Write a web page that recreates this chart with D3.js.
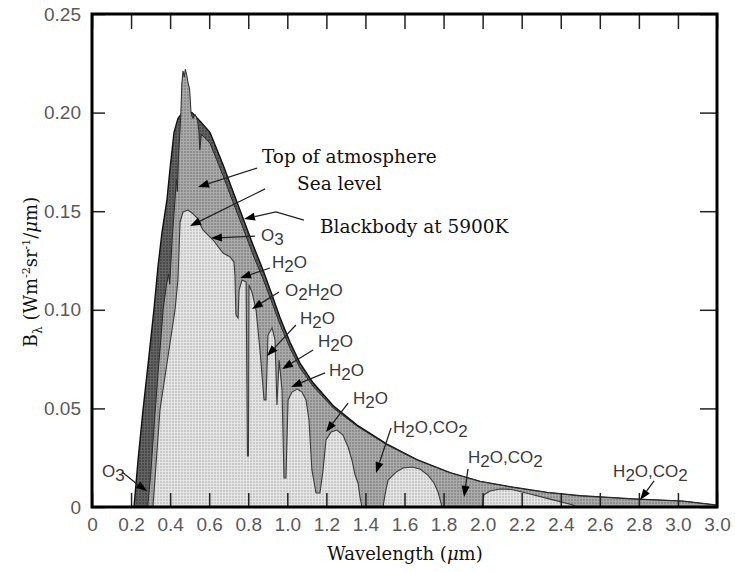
<!DOCTYPE html>
<html><head><meta charset="utf-8">
<script src="https://cdn.jsdelivr.net/npm/d3@7"></script>
<style>html,body{margin:0;padding:0;background:#fff}svg{display:block}</style>
</head><body>
<svg id="chart" width="735" height="572"></svg>
<script>
// ---- data ----
const xTickValues = [0,0.2,0.4,0.6,0.8,1.0,1.2,1.4,1.6,1.8,2.0,2.2,2.4,2.6,2.8,3.0,3.2];
const xTickLabels = ["0","0.2","0.4","0.6","0.8","1.0","1.2","1.4","1.6","1.8","2.0","2.2","2.4","2.6","2.8","3.0","3.0"];
const yTickValues = [0,0.05,0.10,0.15,0.20,0.25];
const yTickLabels = ["0","0.05","0.10","0.15","0.20","0.25"];

// Blackbody at 5900K (wavelength µm, radiance)
const bbWavelength = [0.215,0.236,0.261,0.290,0.317,0.338,0.358,0.384,0.400,0.420,0.440,0.470,0.512,0.550,0.604,0.671,0.722,0.773,0.824,0.876,0.922,0.963,1.014,1.065,1.132,1.234,1.357,1.510,1.664,1.833,1.987,2.156,2.330,2.499,2.770,3.026,3.180,3.200];
const bbRadiance   = [0,0.024,0.049,0.075,0.100,0.122,0.139,0.156,0.172,0.190,0.197,0.201,0.200,0.196,0.190,0.1735,0.160,0.1465,0.133,0.120,0.1075,0.0960,0.0835,0.0730,0.0630,0.0515,0.0415,0.0319,0.0240,0.0174,0.0130,0.0100,0.0074,0.0057,0.0041,0.0030,0.0012,0.0008];

// Top of atmosphere
const toaWavelength = [0.285,0.300,0.323,0.340,0.355,0.364,0.380,0.392,0.398,0.410,0.425,0.432,0.437,0.443,0.450,0.455,0.460,0.466,0.472,0.478,0.485,0.492,0.500,0.507,0.516,0.528,0.540,0.547,0.552,0.560,0.604,0.671,0.722,0.773,0.824,0.876,0.922,0.963,1.014,1.065,1.132,1.234,1.357,1.510,1.664,1.833,1.987,2.156,2.330,2.499,2.770,3.026,3.180,3.200];
const toaRadiance   = [0,0.016,0.048,0.070,0.088,0.100,0.112,0.118,0.113,0.135,0.156,0.166,0.160,0.178,0.190,0.200,0.215,0.221,0.218,0.222,0.219,0.215,0.212,0.200,0.197,0.199,0.196,0.191,0.181,0.189,0.1845,0.168,0.1545,0.1415,0.1280,0.1155,0.1035,0.0925,0.0805,0.0705,0.0612,0.0503,0.0410,0.0315,0.0238,0.0173,0.0129,0.0099,0.0073,0.0056,0.0040,0.0029,0.0011,0.0007];

// Sea level
const seaWavelength = [0.312,0.348,0.425,0.440,0.451,0.466,0.492,0.512,0.538,0.568,0.620,0.671,0.707,0.727,0.732,0.737,0.748,0.753,0.768,0.789,0.796,0.801,0.804,0.819,0.840,0.860,0.881,0.891,0.901,0.922,0.937,0.947,0.958,0.973,0.983,0.993,1.004,1.024,1.050,1.075,1.096,1.111,1.126,1.147,1.167,1.183,1.198,1.224,1.254,1.285,1.311,1.331,1.347,1.362,1.372,1.382,1.490,1.500,1.516,1.557,1.592,1.638,1.679,1.720,1.751,1.772,1.792,1.997,2.007,2.038,2.089,2.150,2.243,2.345,2.463,2.478];
const seaRadiance   = [0,0.0492,0.0999,0.1151,0.1445,0.1496,0.1506,0.1491,0.1466,0.1405,0.1354,0.1288,0.1268,0.1242,0.1176,0.0974,0.0958,0.1100,0.1151,0.1141,0.0259,0.0259,0.1126,0.1090,0.0999,0.0796,0.0543,0.0543,0.0872,0.0908,0.0847,0.0517,0.0745,0.0593,0.0147,0.0147,0.0543,0.0583,0.0598,0.0583,0.0543,0.0441,0.0188,0.0071,0.0071,0.0188,0.0340,0.0380,0.0390,0.0365,0.0304,0.0238,0.0162,0.0122,0.0051,0,0,0.0061,0.0137,0.0177,0.0198,0.0203,0.0193,0.0162,0.0122,0.0076,0,0,0.0062,0.0081,0.0091,0.0089,0.0066,0.0040,0.0010,0];

// Annotations: label text, label anchor (µm, radiance), leader points ending at arrow tip
const annoText  = ["Top of atmosphere","Sea level","Blackbody at 5900K","O3","H2O","O2H2O","H2O","H2O","H2O","H2O","H2O,CO2","H2O,CO2","H2O,CO2","O3"];
const annoSerif = [true,true,true,false,false,false,false,false,false,false,false,false,false,false];
const annoLabelAt = [[0.870,0.1744],[1.050,0.1608],[1.167,0.1389],[0.865,0.1349],[0.922,0.1212],[0.988,0.1070],[1.065,0.0928],[1.157,0.0811],[1.213,0.0664],[1.336,0.0522],[1.541,0.0375],[1.925,0.0223],[2.668,0.0152],[0.051,0.0152]];
const annoLeader = [
  [[0.845,0.1719],[0.543,0.1623]],
  [[0.886,0.1613],[0.502,0.1425]],
  [[1.085,0.1455],[0.942,0.1496],[0.778,0.1460]],
  [[0.835,0.1374],[0.609,0.1364]],
  [[0.911,0.1212],[0.758,0.1161]],
  [[0.957,0.1090],[0.819,0.1004]],
  [[1.044,0.0923],[0.896,0.0766]],
  [[1.132,0.0796],[0.973,0.0700]],
  [[1.193,0.0680],[1.019,0.0609]],
  [[1.311,0.0527],[1.198,0.0380]],
  [[1.531,0.0401],[1.454,0.0172]],
  [[1.925,0.0193],[1.905,0.0051]],
  [[2.878,0.0132],[2.806,0.0035]],
  [[0.154,0.0177],[0.230,0.0117],[0.282,0.0081]]
];

// ---- drawing ----
const svg = d3.select("#chart");
const x = d3.scaleLinear().domain([0,3.2]).range([92,717]);
const y = d3.scaleLinear().domain([0,0.25]).range([507,14]);
const zip = (a,b)=>a.map((v,i)=>[v,b[i]]);

const defs = svg.append("defs");
function pattern(id, base, light){
  const p = defs.append("pattern").attr("id",id).attr("width",3).attr("height",3).attr("patternUnits","userSpaceOnUse");
  p.append("rect").attr("width",3).attr("height",3).attr("fill",base);
  p.append("rect").attr("width",3).attr("height",1).attr("fill",light);
  p.append("rect").attr("width",1).attr("height",3).attr("fill",light);
}
pattern("pDark","#4a4a4a","#646464");
pattern("pMid","#8e8e8e","#ababab");
pattern("pLight","#c9c9c9","#e5e5e5");
defs.append("clipPath").attr("id","plotClip").append("rect")
  .attr("x",x(0)).attr("y",y(0.25)).attr("width",x(3.2)-x(0)).attr("height",y(0)-y(0.25));

const area = d3.area().x(d=>x(d[0])).y0(y(0)).y1(d=>y(d[1]));
const line = d3.line().x(d=>x(d[0])).y(d=>y(d[1]));
const plot = svg.append("g").attr("clip-path","url(#plotClip)");

const bb = zip(bbWavelength,bbRadiance);
const toa = zip(toaWavelength,toaRadiance);
const sea = zip(seaWavelength,seaRadiance);

plot.append("path").datum(bb).attr("d",area).attr("fill","url(#pDark)");
plot.append("path").datum(bb).attr("d",line).attr("fill","none").attr("stroke","#111").attr("stroke-width",1.4);
plot.append("path").datum(toa).attr("d",area).attr("fill","url(#pMid)");
plot.append("path").datum(sea).attr("d",area).attr("fill","url(#pLight)");
plot.append("path").datum(sea).attr("d",line).attr("fill","none").attr("stroke","#3a3a3a").attr("stroke-width",1.1);
plot.append("path").datum(toa).attr("d",line).attr("fill","none").attr("stroke","#2a2a2a").attr("stroke-width",1);

// axes
function styleAxis(g){
  g.select(".domain").remove();
  g.selectAll(".tick line").attr("stroke","#222").attr("stroke-width",1.5);
  g.attr("font-family","'Liberation Sans', Arial, sans-serif").attr("font-size",19);
  g.selectAll(".tick text").attr("fill","#5a5a5a");
}
svg.append("g").attr("transform",`translate(0,${y(0)})`)
  .call(d3.axisBottom(x).tickValues(xTickValues).tickFormat((d,i)=>xTickLabels[i]).tickSize(-14).tickPadding(11))
  .call(styleAxis);
svg.append("g").attr("transform",`translate(0,${y(0.25)})`)
  .call(d3.axisTop(x).tickValues(xTickValues).tickFormat("").tickSize(-15))
  .call(styleAxis);
svg.append("g").attr("transform",`translate(${x(0)},0)`)
  .call(d3.axisLeft(y).tickValues(yTickValues).tickFormat((d,i)=>yTickLabels[i]).tickSize(-13).tickPadding(11))
  .call(styleAxis);
svg.append("g").attr("transform",`translate(${x(3.2)},0)`)
  .call(d3.axisRight(y).tickValues(yTickValues).tickFormat("").tickSize(-17))
  .call(styleAxis);

svg.append("rect").attr("x",x(0)).attr("y",y(0.25)).attr("width",x(3.2)-x(0)).attr("height",y(0)-y(0.25))
  .attr("fill","none").attr("stroke","#000").attr("stroke-width",3);

// axis titles
const serif = "'DejaVu Serif', 'Liberation Serif', serif";
const xt = svg.append("text").attr("x",405).attr("y",560).attr("text-anchor","middle")
  .attr("font-family",serif).attr("font-size",18).attr("fill","#111");
xt.append("tspan").text("Wavelength (");
xt.append("tspan").attr("font-style","italic").text("μ");
xt.append("tspan").text("m)");

const yt = svg.append("text").attr("transform","translate(37,272) rotate(-90)").attr("text-anchor","middle")
  .attr("font-family",serif).attr("font-size",18).attr("fill","#111");
yt.append("tspan").text("B");
yt.append("tspan").attr("font-size",12).attr("dy",5).text("λ");
yt.append("tspan").attr("dy",-5).text(" (Wm");
yt.append("tspan").attr("font-size",11).attr("dy",-7).text("-2");
yt.append("tspan").attr("dy",7).text("sr");
yt.append("tspan").attr("font-size",11).attr("dy",-7).text("-1");
yt.append("tspan").attr("dy",7).text("/");
yt.append("tspan").attr("font-style","italic").text("μ");
yt.append("tspan").text("m)");

// annotations
const ann = svg.append("g");
annoText.forEach((t,i)=>{
  const [lx,ly] = annoLabelAt[i];
  const txt = ann.append("text").attr("x",x(lx)).attr("y",y(ly));
  if (annoSerif[i]) {
    txt.attr("font-family",serif).attr("font-size",18.5).attr("fill","#111").text(t);
  } else {
    txt.attr("font-family","'Liberation Sans', Arial, sans-serif").attr("font-size",17).attr("fill","#3a3a3a");
    let sub = false;
    for (const ch of t) {
      const isD = /[0-9]/.test(ch);
      const ts = txt.append("tspan").text(ch);
      if (isD && !sub) { ts.attr("dy",4); sub = true; }
      else if (!isD && sub) { ts.attr("dy",-4); sub = false; }
    }
  }
  const pts = annoLeader[i].map(p=>[x(p[0]),y(p[1])]);
  const tip = pts[pts.length-1], prev = pts[pts.length-2];
  const ang = Math.atan2(tip[1]-prev[1], tip[0]-prev[0]);
  const L = 11, W = 4;
  const bx = tip[0]-L*Math.cos(ang), by = tip[1]-L*Math.sin(ang);
  const linePts = pts.slice(0,-1).concat([[bx,by]]);
  ann.append("path").attr("d",d3.line()(linePts)).attr("fill","none").attr("stroke","#222").attr("stroke-width",1.3);
  const px = -Math.sin(ang)*W, py = Math.cos(ang)*W;
  ann.append("path").attr("d",d3.line()([tip,[bx+px,by+py],[bx-px,by-py]])+"Z").attr("fill","#000");
});
</script>
</body></html>
